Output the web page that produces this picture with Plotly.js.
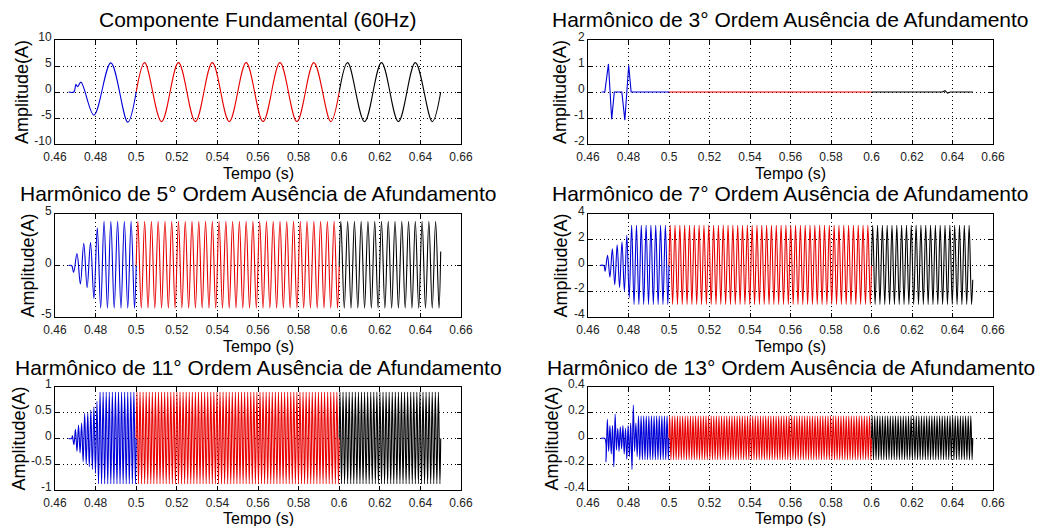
<!DOCTYPE html>
<html><head><meta charset="utf-8">
<script src="https://cdn.plot.ly/plotly-3.0.1.min.js"></script>
<style>html,body{margin:0;padding:0;background:#fff;}#chart{width:1043px;height:526px;}</style>
</head><body><div id="chart"></div>
<script>
// ---------- axis / text data ----------
const xTickVals = [0.46,0.48,0.50,0.52,0.54,0.56,0.58,0.60,0.62,0.64,0.66];
const xTickText = ['0.46','0.48','0.5','0.52','0.54','0.56','0.58','0.6','0.62','0.64','0.66'];
const panelTitles = [
  'Componente Fundamental (60Hz)',
  'Harmônico de 3° Ordem Ausência de Afundamento',
  'Harmônico de 5° Ordem Ausência de Afundamento',
  'Harmônico de 7° Ordem Ausência de Afundamento',
  'Harmônico de 11° Ordem Ausência de Afundamento',
  'Harmônico de 13° Ordem Ausência de Afundamento'
];
const harmonicOrders = [1,3,5,7,11,13];
const yTickSets = [[-10,-5,0,5,10],[-2,-1,0,1,2],[-5,0,5],[-4,-2,0,2,4],[-1,-0.5,0,0.5,1],[-0.4,-0.2,0,0.2,0.4]];
const yTickTexts = [['-10','-5','0','5','10'],['-2','-1','0','1','2'],['-5','0','5'],['-4','-2','0','2','4'],['-1','-0.5','0','0.5','1'],['-0.4','-0.2','0','0.2','0.4']];
const yRanges = [[-10,10],[-2,2],[-5,5],[-4,4],[-1,1],[-0.4,0.4]];
const segmentColors = ['#0000d8','#e80000','#000000'];
const segmentEdges = [0.5, 0.6];
const endTime = 0.65;

// ---------- signal data ----------
// fundamental (60 Hz)
const fundOnsetT = [0.4667,0.4693,0.4703,0.4711,0.4728];
const fundOnsetY = [0,0,1.5,1.0,1.9];
const fundRamp = [4.45,5.6,5.8];          // |peak| of first half cycles
const fundSteady = [5.65,-5.7];           // steady positive / negative peak
const fundEnd = 0.0;

// 3rd harmonic (explicit points)
const h3BlueT = [0.4667,0.4683,0.4701,0.4717,0.4730,0.4767,0.4782,0.4801,0.4813,0.5000];
const h3BlueY = [0,0,1.08,-1.05,0,0,-1.08,1.03,0,0];
const h3RedT = [0.5,0.5075,0.5082,0.5089,0.55,0.5503,0.5506,0.6];
const h3RedY = [0,0,0.025,0,0,0.015,0,0];
const h3BlackT = [0.6,0.6035,0.604,0.6045,0.635,0.6363,0.6376,0.639,0.65];
const h3BlackY = [0,0,0.02,0,0,0.05,-0.04,0,0];

// 5th harmonic
const h5OnsetT = [0.4666,0.4682];
const h5OnsetY = [0,0];
const h5Ramp = [0.68,1.17,1.8,2.15,2.15,2.25,3.2,3.65];
const h5Steady = [4.3,-4.14];
const h5End = 1.35;

// 7th harmonic
const h7OnsetT = [0.4658,0.4678];
const h7OnsetY = [0,0];
const h7Ramp = [0.45,0.8,0.9,1.3,1.5,1.6,1.7,1.85,2.0,2.35,2.5];
const h7Steady = [3.12,-3.02];
const h7End = -1.1;

// 11th harmonic
const h11OnsetT = [0.4666,0.4682];
const h11OnsetY = [0,0];
const h11Ramp = [0.05,0.12,0.18,0.25,0.26,0.28,0.3,0.45,0.49,0.5,0.5,0.55,0.55,0.6,0.62,0.68,0.72];
const h11Steady = [0.9,-0.88];
const h11End = 0.0;

// 13th harmonic
const h13OnsetT = [0.4663,0.4683];
const h13OnsetY = [0,0];
const h13Ramp = [0.18,0.15,0.1,0.1,0.12,0.1,0.22,0.19,0.09,0.08,0.1,0.09,0.08,0.1,0.12,0.08,0.16,0.1,0.14,0.12,0.24,0.26,0.1,0.12,0.14];
const h13Steady = [0.175,-0.165];
const h13End = 0.0;

// ---------- build extrema sequences ----------
function buildWave(order, onsetT, onsetY, ramp, steady, endVal) {
  const half = 1 / (2 * 60 * order);
  const t = onsetT.slice(), y = onsetY.slice();
  const tStart = onsetT[onsetT.length - 1];
  let m = Math.ceil((tStart - 0.5) / half - 0.5 + 1e-9);
  let i = 0, edge = 0;
  while (true) {
    const tm = 0.5 + (m + 0.5) * half;
    if (tm >= endTime) break;
    while (edge < segmentEdges.length && tm > segmentEdges[edge]) {
      t.push(segmentEdges[edge]); y.push(0); edge++;
    }
    const positive = (((m % 2) + 2) % 2) === 0;
    let v;
    if (i < ramp.length) v = positive ? ramp[i] : -ramp[i];
    else v = positive ? steady[0] : steady[1];
    t.push(tm); y.push(v);
    i++; m++;
  }
  t.push(endTime); y.push(endVal);
  return {t, y};
}

function splitSegments(t, y) {
  const segs = [[[],[]],[[],[]],[[],[]]];
  for (let k = 0; k < t.length; k++) {
    const tt = t[k];
    if (tt <= segmentEdges[0] + 1e-12) { segs[0][0].push(tt); segs[0][1].push(y[k]); }
    if (tt >= segmentEdges[0] - 1e-12 && tt <= segmentEdges[1] + 1e-12) { segs[1][0].push(tt); segs[1][1].push(y[k]); }
    if (tt >= segmentEdges[1] - 1e-12) { segs[2][0].push(tt); segs[2][1].push(y[k]); }
  }
  return segs;
}

const waves = [
  buildWave(1, fundOnsetT, fundOnsetY, fundRamp, fundSteady, fundEnd),
  null,
  buildWave(5, h5OnsetT, h5OnsetY, h5Ramp, h5Steady, h5End),
  buildWave(7, h7OnsetT, h7OnsetY, h7Ramp, h7Steady, h7End),
  buildWave(11, h11OnsetT, h11OnsetY, h11Ramp, h11Steady, h11End),
  buildWave(13, h13OnsetT, h13OnsetY, h13Ramp, h13Steady, h13End)
];

const traces = [];
for (let p = 0; p < 6; p++) {
  const ax = p === 0 ? '' : String(p + 1);
  let segs;
  let shape = 'spline';
  if (p === 1) {
    segs = [[h3BlueT, h3BlueY],[h3RedT, h3RedY],[h3BlackT, h3BlackY]];
    shape = 'linear';
  } else {
    segs = splitSegments(waves[p].t, waves[p].y);
  }
  for (let s = 0; s < 3; s++) {
    traces.push({
      x: segs[s][0], y: segs[s][1], type: 'scatter', mode: 'lines',
      xaxis: 'x' + ax, yaxis: 'y' + ax,
      line: {color: segmentColors[s], width: 1.1, shape: shape, smoothing: 1},
      hoverinfo: 'skip'
    });
  }
}

// ---------- layout ----------
const W = 1043, H = 526;
const colPx = [[55, 461], [588, 993]];
const rowPx = [[40, 144], [214, 317], [387, 490]];
const titleYPx = [20, 194, 367];
const xTitleYPx = [173, 346, 518];
const yTitleXPx = [[22, 560], [27, 560], [18, 551]];
const font = 'Liberation Sans, Arial, Helvetica, sans-serif';

const layout = {
  width: W, height: H, margin: {l: 0, r: 0, t: 0, b: 0},
  paper_bgcolor: '#fff', plot_bgcolor: '#fff', showlegend: false,
  font: {family: font, color: '#000'},
  annotations: []
};
for (let p = 0; p < 6; p++) {
  const r = Math.floor(p / 2), c = p % 2;
  const ax = p === 0 ? '' : String(p + 1);
  const xd = [colPx[c][0] / W, colPx[c][1] / W];
  const yd = [1 - rowPx[r][1] / H, 1 - rowPx[r][0] / H];
  layout['xaxis' + ax] = {
    domain: xd, range: [0.46, 0.66], anchor: 'y' + ax,
    tickmode: 'array', tickvals: xTickVals, ticktext: xTickText,
    ticks: 'inside', ticklen: 4, tickcolor: '#000', tickwidth: 1,
    showline: true, linecolor: '#000', linewidth: 1, mirror: 'ticks',
    showgrid: true, gridcolor: '#000', griddash: '1px,3px', gridwidth: 1,
    zeroline: false, fixedrange: true, ticklabelstandoff: 2,
    tickfont: {family: font, size: 12, color: '#222'}
  };
  layout['yaxis' + ax] = {
    domain: yd, range: yRanges[p], anchor: 'x' + ax,
    tickmode: 'array', tickvals: yTickSets[p], ticktext: yTickTexts[p],
    ticks: 'inside', ticklen: 4, tickcolor: '#000', tickwidth: 1,
    showline: true, linecolor: '#000', linewidth: 1, mirror: 'ticks',
    showgrid: true, gridcolor: '#000', griddash: '1px,3px', gridwidth: 1,
    zeroline: false, fixedrange: true, ticklabelshift: -3,
    tickfont: {family: font, size: 12, color: '#222'}
  };
  const xc = (xd[0] + xd[1]) / 2;
  layout.annotations.push({
    text: panelTitles[p], xref: 'paper', yref: 'paper', x: xc, y: 1 - titleYPx[r] / H,
    xanchor: 'center', yanchor: 'middle', showarrow: false,
    font: {family: font, size: 21, color: '#000'}
  });
  layout.annotations.push({
    text: 'Tempo (s)', xref: 'paper', yref: 'paper', x: xc, y: 1 - xTitleYPx[r] / H,
    xanchor: 'center', yanchor: 'middle', showarrow: false, borderpad: 0,
    font: {family: font, size: 16, color: '#000'}
  });
  layout.annotations.push({
    text: 'Amplitude(A)', xref: 'paper', yref: 'paper', x: yTitleXPx[r][c] / W, y: (yd[0] + yd[1]) / 2,
    xanchor: 'center', yanchor: 'middle', showarrow: false, textangle: -90,
    font: {family: font, size: 18, color: '#000'}
  });
}

Plotly.newPlot('chart', traces, layout, {staticPlot: true, displayModeBar: false});
</script>
</body></html>
